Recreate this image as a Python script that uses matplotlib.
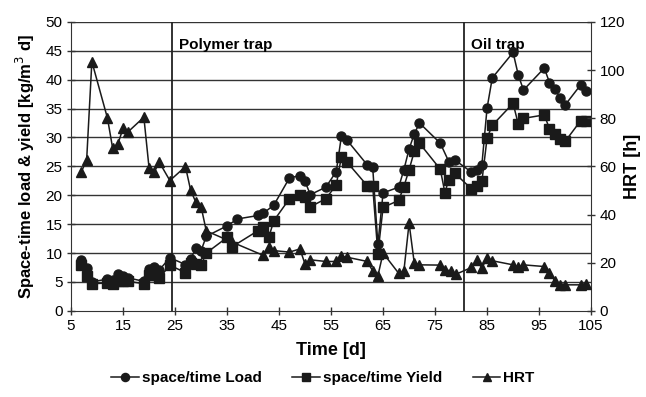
import numpy as np
import matplotlib
matplotlib.use("Agg")
import matplotlib.pyplot as plt

plt.rcParams['font.family'] = ['Liberation Sans', 'DejaVu Sans']

# space/time load [kg/m3 d]
load_day = [7, 8, 9, 12, 13, 14, 15, 16, 19, 20, 21, 22, 24, 27, 28, 29, 30, 31, 35, 37,
            41, 42, 44, 47, 49, 50, 51, 54, 56, 57, 58, 62, 63, 64, 65, 68, 69, 70, 71, 72,
            76, 77.7, 78.8, 82, 83, 84, 85, 86, 90, 91, 92, 96, 97, 98, 99, 100, 103, 104]
load = [8.8, 7.4, 5.0, 5.5, 5.3, 6.3, 6.0, 5.7, 5.1, 7.2, 7.6, 7.1, 9.2, 8.0, 9.0, 10.8, 10.4, 12.9, 14.7, 15.9,
        16.5, 16.9, 18.3, 23.0, 23.4, 22.4, 20.1, 21.4, 24.1, 30.3, 29.6, 25.2, 24.9, 11.5, 20.4, 21.4, 24.4, 28.0, 30.6, 32.5,
        29.0, 25.7, 26.1, 24.0, 24.3, 25.3, 35.1, 40.3, 44.7, 40.8, 38.2, 42.0, 39.5, 38.4, 36.9, 35.6, 39.1, 38.1]

# space/time yield [kg/m3 d]
yield_day = [7, 8, 9, 12, 13, 14, 15, 16, 19, 20, 21, 22, 24, 27, 28, 29, 30, 31, 35, 36,
             41, 42, 43, 44, 47, 49, 50, 51, 54, 56, 57, 58, 62, 63, 64, 65, 68, 69, 70, 71,
             72, 76, 76.9, 77.6, 78.8, 82, 83, 84, 85, 86, 90, 91, 92, 96, 97, 98, 99, 100, 103, 104]
yld = [8.0, 6.1, 4.7, 4.8, 4.7, 5.1, 5.2, 5.1, 4.7, 6.2, 6.2, 5.7, 7.9, 6.6, 8.2, 8.1, 7.9, 10.0, 12.7, 11.1,
       13.9, 14.5, 12.7, 15.6, 19.4, 20.1, 19.7, 18.0, 19.4, 21.8, 26.7, 25.8, 21.6, 21.6, 9.9, 17.9, 19.1, 21.5, 24.4, 27.6,
       29.0, 24.5, 20.4, 22.7, 23.8, 21.1, 21.6, 22.4, 29.9, 32.1, 35.9, 32.3, 33.3, 33.9, 31.5, 30.6, 29.7, 29.3, 32.9, 32.9]

# hydraulic retention time [h]
hrt_day = [7, 8, 9, 12, 13, 14, 15, 16, 19, 20, 21, 22, 24, 27, 28, 29, 30, 31, 36, 42,
           43, 44, 47, 49, 50, 51, 54, 56, 57, 58, 62, 63, 64, 65, 68, 69, 70, 71, 72, 76,
           77, 78, 79, 82, 83, 84, 85, 86, 90, 91, 92, 96, 97, 98, 99, 100, 103, 104]
hrt = [57.8, 62.7, 103.5, 80.0, 67.5, 69.3, 75.8, 74.4, 80.4, 59.3, 57.8, 61.6, 54.1, 59.9, 50.0, 45.1, 43.3, 33.2, 28.5, 23.0,
       26.5, 25.0, 24.4, 25.7, 19.4, 21.2, 20.5, 20.5, 22.6, 22.3, 20.5, 16.5, 14.5, 24.0, 15.6, 16.5, 36.4, 19.8, 19.1, 19.0,
       17.0, 16.6, 15.2, 18.0, 21.2, 17.7, 22.1, 20.8, 19.1, 18.1, 19.1, 18.4, 15.7, 12.6, 10.8, 10.8, 10.8, 11.2]

phase_day = [24.4, 80.6]
phase_name = ["Polymer trap", "Oil trap"]

fig = plt.figure(figsize=(6.46, 3.97), dpi=100)
ax = fig.add_axes([0.110, 0.217, 0.805, 0.728])
ax2 = ax.twinx()

for y in np.arange(5, 51, 5):
    ax.axhline(y, color="#333333", lw=1.0, zorder=1)
for d, name in zip(phase_day, phase_name):
    ax.axvline(d, color="#222222", lw=1.3, zorder=1)
    ax.text(d + 1.4, 46, name, fontsize=11, fontweight="bold", va="center", ha="left")

l1, = ax.plot(load_day, load, "-o", color="#1a1a1a", ms=6.5, lw=1.1, label="space/time Load", zorder=3)
l2, = ax.plot(yield_day, yld, "-s", color="#1a1a1a", ms=6.5, lw=1.1, label="space/time Yield", zorder=3)
l3, = ax2.plot(hrt_day, hrt, "-^", color="#1a1a1a", ms=6.5, lw=1.1, label="HRT", zorder=3)

ax.set_xlim(5, 105)
ax.set_ylim(0, 50)
ax2.set_ylim(0, 120)
ax.set_xticks(np.arange(5, 106, 10))
ax.set_yticks(np.arange(0, 51, 5))
ax2.set_yticks(np.arange(0, 121, 20))

for a in (ax, ax2):
    a.spines["top"].set_visible(False)
    a.tick_params(labelsize=11, direction="inout", length=6, width=1, color="#333333", pad=3)
ax.spines["right"].set_visible(False)
ax2.spines["left"].set_visible(False)
ax.spines["left"].set_color("#333333")
ax.spines["bottom"].set_color("#333333")
ax2.spines["right"].set_color("#333333")
ax2.spines["bottom"].set_visible(False)

ax.set_xlabel("Time [d]", fontsize=13, fontweight="bold", labelpad=6)
ax.set_ylabel("Space-time load & yield [kg/m$^3$ d]", fontsize=12, fontweight="bold", labelpad=6)
ax2.set_ylabel("HRT [h]", fontsize=13, fontweight="bold", rotation=90, va="center")
ax2.yaxis.set_label_coords(1.08, 0.5)

leg = fig.legend(handles=[l1, l2, l3], loc="center", bbox_to_anchor=(0.5, 0.048), ncol=3,
                 frameon=False, prop={"weight": "bold", "size": 11}, handlelength=1.8,
                 handletextpad=0.2, columnspacing=2.0, markerscale=0.9)

fig.savefig("out.png", dpi=100)
